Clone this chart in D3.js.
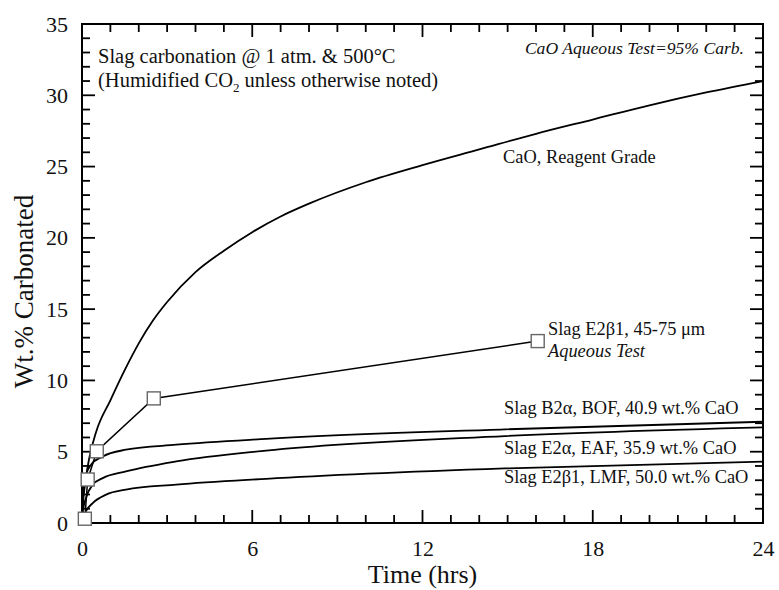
<!DOCTYPE html>
<html><head><meta charset="utf-8">
<script src="https://cdn.jsdelivr.net/npm/d3@7"></script>
<style>body{margin:0;background:#fff}svg{display:block}text{font-family:"Liberation Serif","Times New Roman",serif;fill:#111}</style>
</head><body><svg id="c" width="779" height="590"></svg>
<script>
// ---- data ----
const cao_t = [0, 0.03, 0.1, 0.25, 0.5, 1, 1.5, 2, 2.5, 3, 4, 5, 6, 7, 8, 10, 12, 14, 16, 18, 20, 22, 24];
const cao_v = [0, 1.2, 2.6, 4.5, 6.4, 8.6, 10.7, 12.6, 14.2, 15.5, 17.6, 19.1, 20.4, 21.5, 22.4, 23.9, 25.1, 26.2, 27.3, 28.3, 29.3, 30.2, 31.0];
const bof_t = [0, 0.02, 0.14, 0.32, 0.73, 1.55, 3.32, 6.49, 14.9, 24];
const bof_v = [0, 1.75, 3.39, 4.09, 4.67, 5.14, 5.49, 5.9, 6.57, 7.1];
const eaf_t = [0, 0.03, 0.14, 0.38, 0.73, 1.55, 3.32, 6.49, 14.9, 24];
const eaf_v = [0, 0.8, 1.75, 2.69, 3.15, 3.62, 4.32, 5.08, 6.1, 6.71];
const lmf_t = [0, 0.05, 0.14, 0.38, 0.85, 1.55, 3.32, 6.49, 14.9, 24];
const lmf_v = [0, 0.4, 0.82, 1.4, 1.99, 2.34, 2.69, 3.1, 3.83, 4.3];
const aq_t = [0.1, 0.2, 0.52, 2.53, 16.06];
const aq_v = [0.3, 3.05, 5.03, 8.74, 12.76];
const xTicks = [0, 6, 12, 18, 24];
const yTicks = [0, 5, 10, 15, 20, 25, 30, 35];
const xMinor = [0, 1, 2, 3, 4, 5, 6, 7, 8, 9, 10, 11, 12, 13, 14, 15, 16, 17, 18, 19, 20, 21, 22, 23, 24];
const yMinor = [0, 1, 2, 3, 4, 5, 6, 7, 8, 9, 10, 11, 12, 13, 14, 15, 16, 17, 18, 19, 20, 21, 22, 23, 24, 25, 26, 27, 28, 29, 30, 31, 32, 33, 34, 35];

// ---- layout ----
const L = 82, R = 763, T = 24, B = 523;
const svg = d3.select('#c');
const x = d3.scaleLinear().domain([0, 24]).range([L, R]);
const y = d3.scaleLinear().domain([0, 35]).range([B, T]);

const zip = (a, b) => a.map((t, i) => [t, b[i]]);
const line = d3.line().x(d => x(d[0])).y(d => y(d[1])).curve(d3.curveMonotoneX);
const lineStraight = d3.line().x(d => x(d[0])).y(d => y(d[1]));

// frame
svg.append('rect').attr('x', L).attr('y', T).attr('width', R - L).attr('height', B - T)
  .attr('fill', 'none').attr('stroke', '#000').attr('stroke-width', 2);

// ticks (inward on all four sides)
const tl = (d) => (xTicks.includes(d) ? 13 : 8);
const tly = (d) => (yTicks.includes(d) ? 13 : 8);
const tickPath = d3.line();
const segs = [];
xMinor.forEach(d => {
  segs.push([[x(d), B], [x(d), B - tl(d)]]);
  segs.push([[x(d), T], [x(d), T + tl(d)]]);
});
yMinor.forEach(d => {
  segs.push([[L, y(d)], [L + tly(d), y(d)]]);
  segs.push([[R, y(d)], [R - tly(d), y(d)]]);
});
svg.append('g').selectAll('path').data(segs).join('path')
  .attr('d', d => tickPath(d)).attr('fill', 'none').attr('stroke', '#000').attr('stroke-width', 1.8);

// curves
[[cao_t, cao_v], [bof_t, bof_v], [eaf_t, eaf_v], [lmf_t, lmf_v]].forEach(([t, v]) => {
  svg.append('path').attr('d', line(zip(t, v))).attr('fill', 'none').attr('stroke', '#000').attr('stroke-width', 1.8);
});
const aq = zip(aq_t, aq_v);
svg.append('path').attr('d', lineStraight(aq)).attr('fill', 'none').attr('stroke', '#000').attr('stroke-width', 1.5);
svg.selectAll('rect.m').data(aq).enter().append('rect').attr('class', 'm')
  .attr('x', d => x(d[0]) - 6.5).attr('y', d => y(d[1]) - 6.5).attr('width', 13).attr('height', 13)
  .attr('fill', '#fff').attr('stroke', '#666').attr('stroke-width', 1.4);

// tick labels via axes
svg.append('g').attr('transform', `translate(0,${B})`)
  .call(d3.axisBottom(x).tickValues(xTicks).tickSize(0).tickPadding(17).tickFormat(d3.format('d')));
svg.append('g').attr('transform', `translate(${L},0)`)
  .call(d3.axisLeft(y).tickValues(yTicks).tickSize(0).tickPadding(14).tickFormat(d3.format('d')));
svg.selectAll('.domain').remove();
svg.selectAll('.tick text').attr('font-size', 22).attr('font-family', '"Liberation Serif",serif').attr('fill', '#111');

// axis titles
svg.append('text').attr('x', (L + R) / 2).attr('y', 583).attr('text-anchor', 'middle').attr('font-size', 26).text('Time (hrs)');
svg.append('text').attr('transform', `translate(33,${(T + B) / 2 + 18}) rotate(-90)`).attr('text-anchor', 'middle').attr('font-size', 27).text('Wt.% Carbonated');

// annotations
svg.append('text').attr('x', 98).attr('y', 63).attr('font-size', 20.5).text('Slag carbonation @ 1 atm. & 500°C');
const t2 = svg.append('text').attr('x', 98).attr('y', 87).attr('font-size', 20.5);
t2.append('tspan').text('(Humidified CO');
t2.append('tspan').attr('font-size', 13).attr('dy', 5).text('2');
t2.append('tspan').attr('dy', -5).text(' unless otherwise noted)');
svg.append('text').attr('x', 744).attr('y', 54).attr('text-anchor', 'end').attr('font-size', 17.6).attr('font-style', 'italic').text('CaO Aqueous Test=95% Carb.');
svg.append('text').attr('x', 503).attr('y', 163).attr('font-size', 18.4).text('CaO, Reagent Grade');
svg.append('text').attr('x', 548).attr('y', 335).attr('font-size', 18.4).text('Slag E2β1, 45-75 μm');
svg.append('text').attr('x', 548).attr('y', 357).attr('font-size', 18.4).attr('font-style', 'italic').text('Aqueous Test');
svg.append('text').attr('x', 504).attr('y', 414).attr('font-size', 18.4).text('Slag B2α, BOF, 40.9 wt.% CaO');
svg.append('text').attr('x', 504).attr('y', 454).attr('font-size', 18.4).text('Slag E2α, EAF, 35.9 wt.% CaO');
svg.append('text').attr('x', 504).attr('y', 483).attr('font-size', 18.4).text('Slag E2β1, LMF, 50.0 wt.% CaO');
</script></body></html>
